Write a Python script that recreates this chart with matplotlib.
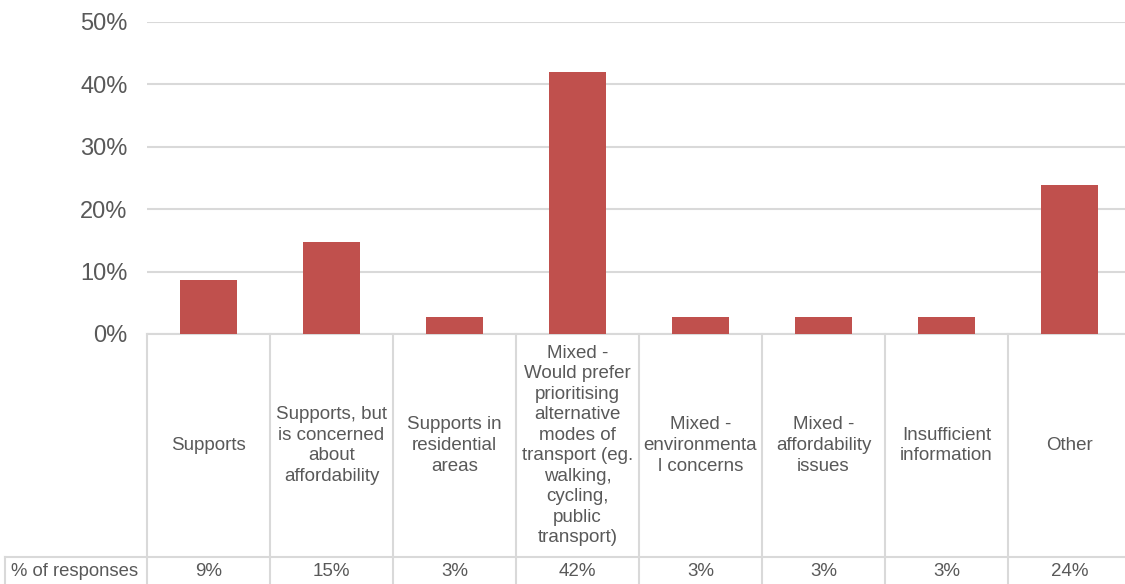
import matplotlib
matplotlib.use("Agg")
import matplotlib.pyplot as plt

categories = [
    "Supports",
    "Supports, but\nis concerned\nabout\naffordability",
    "Supports in\nresidential\nareas",
    "Mixed -\nWould prefer\nprioritising\nalternative\nmodes of\ntransport (eg.\nwalking,\ncycling,\npublic\ntransport)",
    "Mixed -\nenvironmenta\nl concerns",
    "Mixed -\naffordability\nissues",
    "Insufficient\ninformation",
    "Other",
]
pct = [8.7, 14.7, 2.8, 42.0, 2.8, 2.8, 2.8, 23.9]
pct_labels = ["9%", "15%", "3%", "42%", "3%", "3%", "3%", "24%"]
row_label = "% of responses"
yticks = [0, 10, 20, 30, 40, 50]

plt.rcParams["font.family"] = ["Liberation Sans", "DejaVu Sans"]
TXT = "#595959"
LINE = "#d9d9d9"
BAR = "#c0504d"

W, H = 1125, 584
fig = plt.figure(figsize=(W / 100, H / 100), dpi=100)
# plot area in pixels: x 147..1131, y 22..334
ax = fig.add_axes([147 / W, 1 - 334 / H, 984 / W, 312 / H])

x = list(range(len(categories)))
ax.bar(x, pct, width=0.47, color=BAR, zorder=3)
ax.set_xlim(-0.5, len(categories) - 0.5)
ax.set_ylim(0, 50)
ax.set_yticks(yticks)
ax.set_yticklabels([f"{v}%" for v in yticks], fontsize=17, color=TXT)
ax.tick_params(axis="y", length=0, pad=14)
ax.set_xticks([])
ax.grid(axis="y", color=LINE, lw=1.5, zorder=0)
for s in ax.spines.values():
    s.set_visible(False)

# data table under the axis
tr = ax.get_xaxis_transform()
row_y = -(557 - 334) / 312
bot_y = -(590 - 334) / 312
ax.plot([-0.5, len(categories) - 0.5], [0, 0], transform=tr, color=LINE, lw=1.5, clip_on=False)
for i in range(len(categories) + 1):
    ax.plot([i - 0.5, i - 0.5], [0, bot_y], transform=tr, color=LINE, lw=1.5, clip_on=False)
for i, (lab, val) in enumerate(zip(categories, pct_labels)):
    ax.text(i, row_y / 2, lab, transform=tr, ha="center", va="center",
            fontsize=13.5, color=TXT, linespacing=1.27)
    ax.text(i, -(571 - 334) / 312, val, transform=tr, ha="center", va="center",
            fontsize=13.5, color=TXT)

# row header cell
fy = 1 - 557 / H
fig.add_artist(plt.Line2D([5 / W, 1], [fy, fy], color=LINE, lw=1.5))
fig.add_artist(plt.Line2D([5 / W, 5 / W], [fy, 0], color=LINE, lw=1.5))
fig.text(11 / W, 1 - 571 / H, row_label, ha="left", va="center", fontsize=13.3, color=TXT)

fig.savefig("out.png", dpi=100)
